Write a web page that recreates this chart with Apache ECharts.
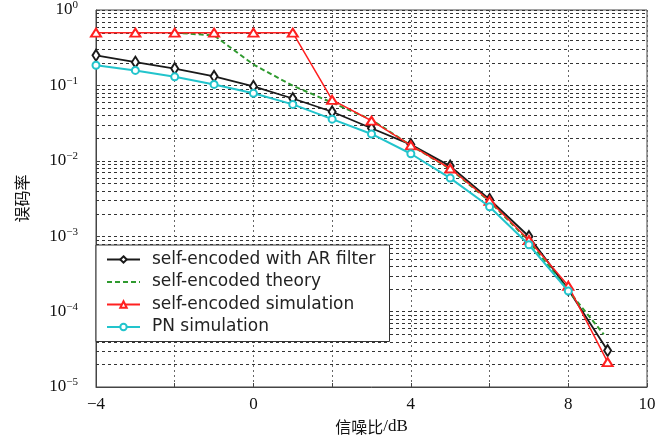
<!DOCTYPE html>
<html>
<head>
<meta charset="utf-8">
<script src="https://cdn.jsdelivr.net/npm/echarts@6/dist/echarts.min.js"></script>
<style>
  html, body { margin: 0; padding: 0; background: #fff; }
  #main { width: 666px; height: 445px; }
</style>
</head>
<body>
<div id="main"></div>
<script>
// SNR (dB) points
var snrAR = [-4, -3, -2, -1, 0, 1, 2, 3, 4, 5, 6, 7, 8, 9];
var berAR = [0.251, 0.203, 0.167, 0.132, 0.097, 0.067, 0.0447, 0.027, 0.0164, 0.0085, 0.00307, 0.00099, 1.97e-4, 3.04e-5];

var snrTheory = [-2, -1, 0, 1, 2, 3, 4, 5, 6, 7, 8, 8.9];
var berTheory = [0.5, 0.46, 0.189, 0.099, 0.059, 0.035, 0.016, 0.0078, 0.0029, 8.6e-4, 1.9e-4, 5.0e-5];

var snrSim = [-4, -3, -2, -1, 0, 1, 2, 3, 4, 5, 6, 7, 8, 9];
var berSim = [0.5, 0.5, 0.5, 0.5, 0.5, 0.5, 0.0643, 0.034, 0.016, 0.0079, 0.00295, 8.9e-4, 2.2e-4, 2.14e-5];

var snrPN = [-4, -3, -2, -1, 0, 1, 2, 3, 4, 5, 6, 7, 8];
var berPN = [0.185, 0.158, 0.130, 0.103, 0.0785, 0.056, 0.0357, 0.0227, 0.0124, 0.0059, 0.00246, 7.7e-4, 1.87e-4];

var seriesNames = ['self-encoded with AR filter', 'self-encoded theory', 'self-encoded simulation', 'PN simulation'];
var xTickLabels = [-4, 0, 4, 8, 10];

function pairs(xs, ys) {
    return xs.map(function (x, i) { return [x, ys[i]]; });
}

// minor log grid lines 2..9 x 10^k
var minorLines = [];
for (var k = -5; k < 0; k++) {
    for (var m = 2; m <= 9; m++) {
        minorLines.push([0, m * Math.pow(10, k)]);
    }
}

function renderMinor(params, api) {
    var cs = params.coordSys;
    var y = Math.round(api.coord([0, api.value(1)])[1]) + 0.5;
    return {
        type: 'line',
        shape: { x1: cs.x, y1: y, x2: cs.x + cs.width, y2: y },
        style: { stroke: '#333', lineWidth: 1, lineDash: [3, 3] },
        silent: true
    };
}

var chart = echarts.init(document.getElementById('main'));

var option = {
    animation: false,
    backgroundColor: '#fff',
    grid: {
        left: 96, right: 19, top: 7, bottom: 58,
        show: true, borderColor: '#444', borderWidth: 1
    },
    legend: {
        data: [
            { name: seriesNames[0] },
            { name: seriesNames[1], itemStyle: { opacity: 0 } },
            { name: seriesNames[2] },
            { name: seriesNames[3] }
        ],
        orient: 'vertical',
        left: 96, top: 245,
        backgroundColor: '#fff',
        borderColor: '#333', borderWidth: 1,
        padding: [6, 14, 6, 10],
        itemWidth: 33, itemHeight: 8, itemGap: 5.5,
        textStyle: {
            fontFamily: 'DejaVu Sans', fontSize: 17, color: '#222',
            lineHeight: 16, padding: [0, 0, 0, 7]
        }
    },
    xAxis: {
        type: 'value', min: -4, max: 10, interval: 2,
        name: '{a|信噪比}{b|/dB}',
        nameLocation: 'middle', nameGap: 31,
        nameTextStyle: {
            rich: {
                a: { fontFamily: 'Noto Sans CJK SC', fontSize: 16, color: '#111' },
                b: { fontFamily: 'Liberation Serif', fontSize: 17, color: '#111' }
            }
        },
        axisLine: { onZero: false, lineStyle: { color: '#444' } },
        axisTick: { show: true, inside: true, length: 4, lineStyle: { color: '#444' } },
        axisLabel: {
            margin: 9,
            fontFamily: 'Liberation Serif', fontSize: 17, color: '#111',
            showMaxLabel: true, showMinLabel: true,
            formatter: function (v) {
                if (xTickLabels.indexOf(v) < 0) return '';
                return v < 0 ? '\u2212' + (-v) : String(v);
            }
        },
        splitLine: { show: true, lineStyle: { color: '#666', type: [2, 3], width: 1 } }
    },
    yAxis: {
        type: 'log', logBase: 10, min: 1e-5, max: 1,
        name: '误码率',
        nameLocation: 'middle', nameRotate: 90, nameGap: 66,
        nameTextStyle: { fontFamily: 'Noto Sans CJK SC', fontSize: 16, color: '#111' },
        axisLine: { onZero: false, lineStyle: { color: '#444' } },
        axisTick: { show: true, inside: true, length: 4, lineStyle: { color: '#444' } },
        axisLabel: {
            margin: 18,
            formatter: function (v) {
                var e = Math.round(Math.log(v) / Math.LN10);
                var s = e < 0 ? '\u2212' + (-e) : String(e);
                return '{b|10}{s|' + s + '}';
            },
            rich: {
                b: { fontFamily: 'Liberation Serif', fontSize: 17, color: '#111', lineHeight: 20 },
                s: { fontFamily: 'Liberation Serif', fontSize: 11, color: '#111', lineHeight: 11, verticalAlign: 'top' }
            }
        },
        splitLine: { show: true, lineStyle: { color: '#333', type: [3, 3], width: 1 } }
    },
    series: [
        {
            name: 'grid-minor', type: 'custom', z: 1, silent: true,
            renderItem: renderMinor,
            encode: { x: 0, y: 1 },
            data: minorLines
        },
        {
            name: seriesNames[0], type: 'line', z: 3,
            data: pairs(snrAR, berAR),
            symbol: 'emptyDiamond', symbolSize: [7, 11],
            lineStyle: { color: '#1a1a1a', width: 1.8 },
            itemStyle: { color: '#1a1a1a', borderWidth: 1.5 }
        },
        {
            name: seriesNames[1], type: 'line', z: 3,
            data: pairs(snrTheory, berTheory),
            symbol: 'none',
            lineStyle: { color: '#2f9a2f', width: 2, type: [5, 3] },
            itemStyle: { color: '#2f9a2f' }
        },
        {
            name: seriesNames[2], type: 'line', z: 4,
            data: pairs(snrSim, berSim),
            symbol: 'emptyTriangle', symbolSize: [10, 8],
            lineStyle: { color: '#ff2020', width: 1.5 },
            itemStyle: { color: '#ff2020', borderWidth: 1.5 }
        },
        {
            name: seriesNames[3], type: 'line', z: 5,
            data: pairs(snrPN, berPN),
            symbol: 'emptyCircle', symbolSize: 7,
            lineStyle: { color: '#22c4cc', width: 2 },
            itemStyle: { color: '#22c4cc', borderWidth: 1.5 }
        }
    ]
};

chart.setOption(option);
</script>
</body>
</html>
